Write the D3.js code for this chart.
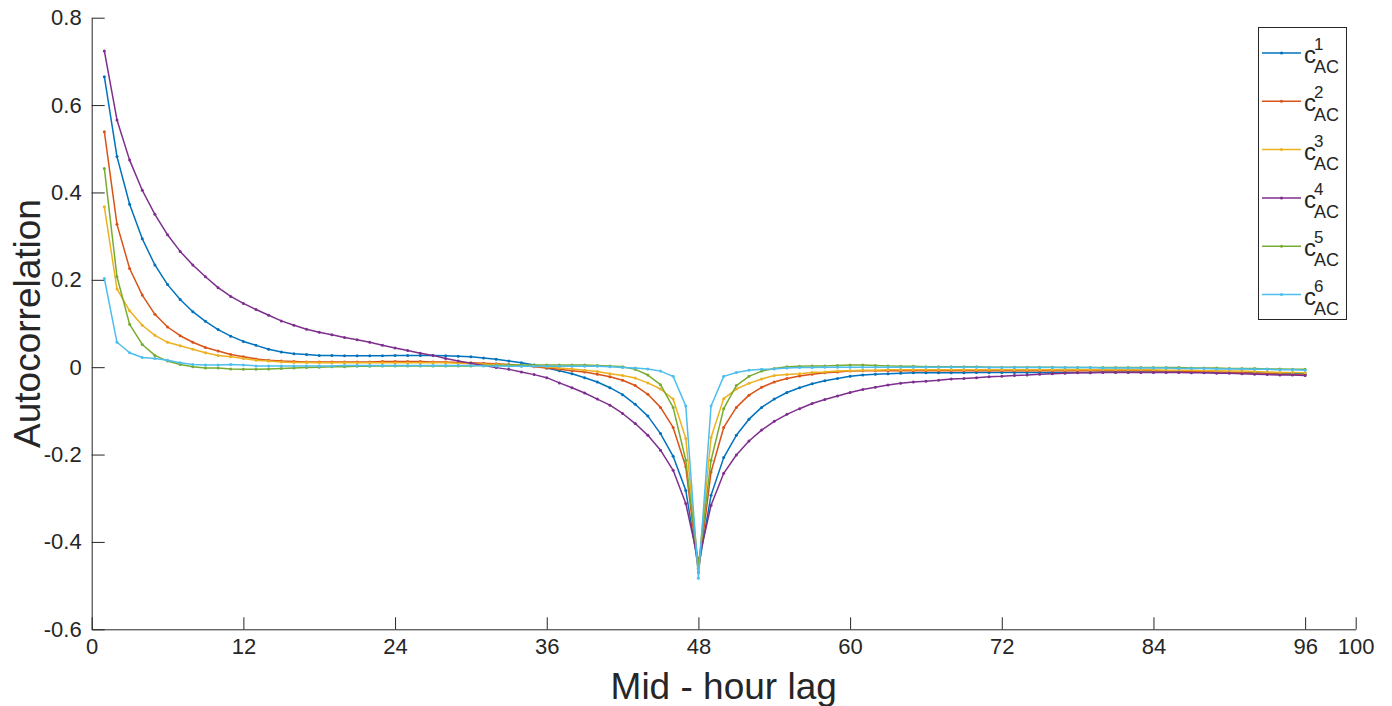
<!DOCTYPE html>
<html>
<head>
<meta charset="utf-8">
<script src="https://cdn.jsdelivr.net/npm/d3@7"></script>
<style>
  html, body { margin: 0; padding: 0; background: #fff; }
  svg text { font-family: "Liberation Sans", Arial, Helvetica, sans-serif; fill: #262626; }
</style>
</head>
<body>
<svg id="chart" width="1392" height="706"></svg>
<script>
// -------------------------
// DATA
// -------------------------
const lags = d3.range(1, 97);
const seriesNames = ["1", "2", "3", "4", "5", "6"];
const seriesColors = ["#0072BD", "#D95319", "#EDB120", "#7E2F8E", "#77AC30", "#4DBEEE"];
const xTicks = [0, 12, 24, 36, 48, 60, 72, 84, 96, 100];
const yTicks = [-0.6, -0.4, -0.2, 0, 0.2, 0.4, 0.6, 0.8];
const yTickLabels = ["-0.6", "-0.4", "-0.2", "0", "0.2", "0.4", "0.6", "0.8"];

const acf1 = [
  0.665, 0.482, 0.373, 0.294, 0.234, 0.189, 0.155, 0.127, 0.105, 0.086, 0.071, 0.059,
  0.050, 0.041, 0.035, 0.031, 0.029, 0.027, 0.027, 0.026, 0.026, 0.026, 0.026, 0.027,
  0.027, 0.027, 0.027, 0.026, 0.025, 0.024, 0.021, 0.018, 0.014, 0.010, 0.005, -0.002,
  -0.008, -0.015, -0.024, -0.034, -0.047, -0.063, -0.085, -0.112, -0.152, -0.204, -0.282, -0.460,
  -0.293, -0.207, -0.156, -0.119, -0.092, -0.073, -0.058, -0.047, -0.038, -0.031, -0.026, -0.021,
  -0.018, -0.016, -0.015, -0.014, -0.013, -0.013, -0.013, -0.013, -0.013, -0.012, -0.012, -0.012,
  -0.012, -0.012, -0.012, -0.012, -0.012, -0.012, -0.012, -0.011, -0.011, -0.011, -0.011, -0.011,
  -0.011, -0.011, -0.011, -0.012, -0.012, -0.012, -0.013, -0.013, -0.014, -0.014, -0.015, -0.015
];
const acf2 = [
  0.539, 0.327, 0.226, 0.165, 0.121, 0.092, 0.072, 0.057, 0.045, 0.037, 0.029, 0.024,
  0.019, 0.016, 0.014, 0.013, 0.012, 0.012, 0.012, 0.012, 0.012, 0.012, 0.013, 0.013,
  0.013, 0.013, 0.012, 0.012, 0.011, 0.010, 0.009, 0.008, 0.006, 0.004, 0.001, -0.002,
  -0.005, -0.008, -0.011, -0.016, -0.022, -0.030, -0.042, -0.062, -0.092, -0.138, -0.228, -0.470,
  -0.240, -0.138, -0.092, -0.064, -0.046, -0.034, -0.026, -0.020, -0.016, -0.013, -0.011, -0.009,
  -0.008, -0.008, -0.008, -0.008, -0.008, -0.008, -0.008, -0.008, -0.008, -0.008, -0.008, -0.008,
  -0.008, -0.008, -0.008, -0.008, -0.008, -0.008, -0.008, -0.008, -0.008, -0.008, -0.008, -0.008,
  -0.009, -0.009, -0.010, -0.010, -0.011, -0.012, -0.013, -0.014, -0.015, -0.016, -0.017, -0.018
];
const acf3 = [
  0.367, 0.179, 0.129, 0.096, 0.073, 0.057, 0.049, 0.041, 0.033, 0.027, 0.024, 0.020,
  0.016, 0.014, 0.012, 0.011, 0.011, 0.010, 0.010, 0.010, 0.010, 0.010, 0.010, 0.010,
  0.010, 0.010, 0.010, 0.010, 0.009, 0.008, 0.007, 0.006, 0.005, 0.003, 0.002, 0.001,
  -0.002, -0.004, -0.007, -0.010, -0.015, -0.019, -0.025, -0.036, -0.050, -0.073, -0.163, -0.460,
  -0.161, -0.072, -0.050, -0.037, -0.027, -0.019, -0.017, -0.015, -0.012, -0.011, -0.009, -0.008,
  -0.007, -0.007, -0.006, -0.006, -0.006, -0.006, -0.006, -0.006, -0.006, -0.006, -0.006, -0.006,
  -0.006, -0.006, -0.006, -0.006, -0.006, -0.006, -0.006, -0.006, -0.006, -0.006, -0.006, -0.006,
  -0.007, -0.007, -0.007, -0.008, -0.008, -0.009, -0.009, -0.010, -0.011, -0.012, -0.012, -0.013
];
const acf4 = [
  0.724, 0.566, 0.474, 0.405, 0.350, 0.303, 0.265, 0.234, 0.207, 0.182, 0.162, 0.146,
  0.132, 0.119, 0.106, 0.096, 0.087, 0.080, 0.074, 0.068, 0.063, 0.057, 0.050, 0.044,
  0.038, 0.032, 0.027, 0.020, 0.014, 0.009, 0.004, -0.001, -0.005, -0.011, -0.017, -0.024,
  -0.036, -0.047, -0.059, -0.073, -0.087, -0.106, -0.129, -0.156, -0.190, -0.236, -0.312, -0.445,
  -0.316, -0.243, -0.201, -0.169, -0.144, -0.124, -0.108, -0.095, -0.083, -0.074, -0.066, -0.058,
  -0.051, -0.046, -0.041, -0.037, -0.034, -0.032, -0.030, -0.027, -0.026, -0.024, -0.022, -0.021,
  -0.019, -0.018, -0.016, -0.015, -0.014, -0.013, -0.013, -0.012, -0.012, -0.012, -0.012, -0.012,
  -0.012, -0.012, -0.013, -0.013, -0.014, -0.014, -0.015, -0.016, -0.017, -0.018, -0.018, -0.019
];
const acf5 = [
  0.455, 0.207, 0.098, 0.052, 0.027, 0.014, 0.006, 0.001, -0.002, -0.002, -0.004, -0.005,
  -0.005, -0.004, -0.003, -0.002, -0.001, 0.000, 0.001, 0.001, 0.002, 0.002, 0.003, 0.003,
  0.003, 0.003, 0.003, 0.003, 0.003, 0.003, 0.004, 0.004, 0.005, 0.005, 0.005, 0.005,
  0.005, 0.005, 0.005, 0.004, 0.003, 0.001, -0.005, -0.018, -0.040, -0.092, -0.213, -0.455,
  -0.213, -0.095, -0.042, -0.021, -0.009, -0.003, 0.001, 0.002, 0.003, 0.003, 0.004, 0.005,
  0.005, 0.004, 0.003, 0.002, 0.002, 0.001, 0.001, 0.001, 0.001, 0.001, 0.000, 0.000,
  0.000, 0.000, 0.000, 0.000, -0.001, -0.001, -0.001, -0.001, -0.001, -0.001, -0.001, -0.001,
  -0.001, -0.001, -0.002, -0.002, -0.002, -0.003, -0.003, -0.003, -0.004, -0.004, -0.005, -0.005
];
const acf6 = [
  0.203, 0.057, 0.033, 0.022, 0.020, 0.016, 0.010, 0.006, 0.005, 0.005, 0.006, 0.005,
  0.003, 0.003, 0.003, 0.003, 0.003, 0.003, 0.003, 0.004, 0.004, 0.004, 0.004, 0.004,
  0.004, 0.004, 0.004, 0.004, 0.004, 0.004, 0.003, 0.003, 0.002, 0.002, 0.002, 0.002,
  0.002, 0.002, 0.002, 0.002, 0.001, -0.001, -0.002, -0.004, -0.009, -0.021, -0.089, -0.483,
  -0.089, -0.021, -0.012, -0.007, -0.005, -0.004, -0.002, -0.001, -0.001, 0.000, 0.000, 0.000,
  0.000, 0.000, 0.000, 0.000, 0.000, 0.000, 0.000, 0.000, 0.000, 0.000, -0.001, -0.001,
  -0.001, -0.001, -0.001, -0.001, -0.001, -0.001, -0.001, -0.002, -0.002, -0.002, -0.002, -0.002,
  -0.002, -0.003, -0.003, -0.003, -0.004, -0.004, -0.004, -0.005, -0.005, -0.006, -0.006, -0.007
];
const allSeries = [acf1, acf2, acf3, acf4, acf5, acf6];

// -------------------------
// SCALES / AXES
// -------------------------
const margin = { left: 91.7, right: 1355.7, top: 17.7, bottom: 629.3 };
const svg = d3.select("#chart");
const x = d3.scaleLinear().domain([0, 100]).range([margin.left, margin.right]);
const y = d3.scaleLinear().domain([-0.6, 0.8]).range([margin.bottom, margin.top]);
const axisColor = "#262626";

// x axis (ticks point inward like MATLAB)
const gx = svg.append("g")
  .attr("transform", `translate(0,${margin.bottom})`)
  .call(d3.axisBottom(x).tickValues(xTicks).tickSizeInner(-12).tickSizeOuter(0).tickPadding(20).tickFormat(d3.format("d")));
gx.select(".domain").attr("stroke", axisColor).attr("stroke-width", 1);
gx.selectAll(".tick line").attr("stroke", axisColor);
gx.selectAll(".tick text").attr("font-size", 22).attr("fill", axisColor).attr("dy", "0.71em").attr("y", 9);

// y axis
const gy = svg.append("g")
  .attr("transform", `translate(${margin.left},0)`)
  .call(d3.axisLeft(y).tickValues(yTicks).tickSizeInner(-13).tickSizeOuter(0).tickPadding(10)
    .tickFormat((d, i) => yTickLabels[i]));
gy.select(".domain").attr("stroke", axisColor).attr("stroke-width", 1);
gy.selectAll(".tick line").attr("stroke", axisColor);
gy.selectAll(".tick text").attr("font-size", 22).attr("fill", axisColor).attr("x", -10);

// axis titles
svg.append("text")
  .attr("x", (margin.left + margin.right) / 2).attr("y", 699)
  .attr("text-anchor", "middle").attr("font-size", 37)
  .text("Mid - hour lag");
svg.append("text")
  .attr("transform", `translate(40,${(margin.top + margin.bottom) / 2}) rotate(-90)`)
  .attr("text-anchor", "middle").attr("font-size", 37)
  .text("Autocorrelation");

// -------------------------
// LINES + MARKERS
// -------------------------
const line = d3.line().x((d, i) => x(lags[i])).y(d => y(d));

allSeries.forEach((vals, k) => {
  const g = svg.append("g").attr("class", "series s" + (k + 1));
  g.append("path")
    .datum(vals)
    .attr("fill", "none")
    .attr("stroke", seriesColors[k])
    .attr("stroke-width", 1.5)
    .attr("stroke-linejoin", "round")
    .attr("d", line);
  g.selectAll("circle").data(vals).enter().append("circle")
    .attr("cx", (d, i) => x(lags[i]))
    .attr("cy", d => y(d))
    .attr("r", 1.5)
    .attr("fill", seriesColors[k]);
});

// -------------------------
// LEGEND
// -------------------------
const legend = svg.append("g").attr("class", "legend");
legend.append("rect")
  .attr("x", 1258.5).attr("y", 27.5).attr("width", 88).attr("height", 292)
  .attr("fill", "#fff").attr("stroke", axisColor).attr("stroke-width", 1);

seriesNames.forEach((name, k) => {
  const cy = 53 + k * 48.3;
  legend.append("line")
    .attr("x1", 1262).attr("x2", 1301).attr("y1", cy).attr("y2", cy)
    .attr("stroke", seriesColors[k]).attr("stroke-width", 1.5);
  legend.append("circle").attr("cx", 1281.5).attr("cy", cy).attr("r", 1.5).attr("fill", seriesColors[k]);
  legend.append("text").attr("x", 1304).attr("y", cy + 10).attr("font-size", 24).text("c");
  legend.append("text").attr("x", 1314).attr("y", cy - 3).attr("font-size", 17).text(name);
  legend.append("text").attr("x", 1314).attr("y", cy + 20).attr("font-size", 18).text("AC");
});
</script>
</body>
</html>
